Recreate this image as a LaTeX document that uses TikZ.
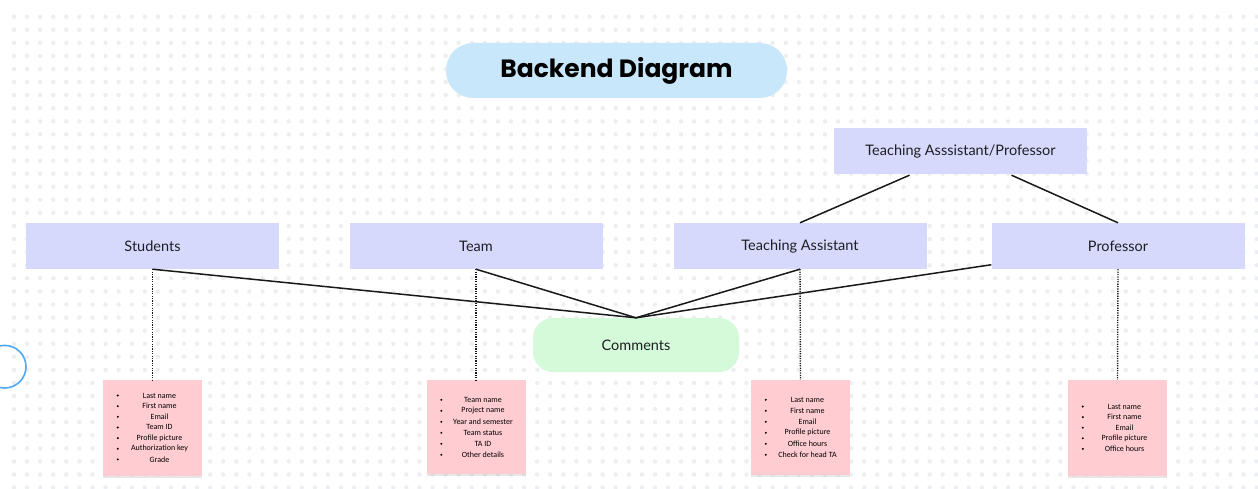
\documentclass[tikz,border=0pt]{standalone}
\usepackage{fontspec}
\setmainfont{Lato}
\newfontfamily\titlefont{Poppins}
\newfontfamily\notefont{Carlito}
\usetikzlibrary{calc,shadows}
\definecolor{gridgray}{HTML}{ECEEF2}
\definecolor{titleblue}{HTML}{C8E7FB}
\definecolor{boxlav}{HTML}{D6D9FC}
\definecolor{notepink}{HTML}{FFCCD1}
\definecolor{commgreen}{HTML}{D4FAD9}
\definecolor{arcblue}{HTML}{4FA8F2}
\definecolor{txt}{HTML}{1E1E24}
\tikzset{
  titlebox/.style={fill=titleblue, rounded corners=27pt, minimum width=341pt, minimum height=55pt, inner sep=0pt,
    font=\titlefont\bfseries\fontsize{25}{28}\selectfont, text=black},
  entity/.style={fill=boxlav, minimum width=253pt, minimum height=46pt, inner sep=0pt,
    font=\fontsize{14.5}{16}\selectfont, text=txt},
  commbox/.style={fill=commgreen, rounded corners=20pt, minimum width=206pt, minimum height=54pt, inner sep=0pt,
    font=\fontsize{14.5}{16}\selectfont, text=txt},
  notebox/.style={fill=notepink, minimum width=99pt, inner sep=0pt,
    drop shadow={shadow xshift=0pt, shadow yshift=-2pt, opacity=0.18, fill=gray}},
  notetxt/.style={font=\notefont\fontsize{8}{9}\selectfont, text=black, inner sep=0pt, anchor=center},
  conn/.style={line width=1.5pt, draw=black!90},
  dotconn/.style={line width=1.4pt, draw=black!90, dash pattern=on 1.2pt off 1.2pt},
}
\begin{document}
\begin{tikzpicture}[x=1pt,y=-1pt]
\useasboundingbox (0,0) rectangle (1258,489);
\fill[white] (0,0) rectangle (1258,489);
% dot grid
\foreach \i in {0,...,95} {
  \foreach \j in {0,...,36} {
    \fill[gridgray] ({14+13.08*\i},{16.7+13.08*\j}) circle (2.2pt);
  }
}
% partial circle at left edge
\begin{scope}
\clip (0,0) rectangle (1258,489);
\draw[arcblue, line width=1.6pt] (4.7,366.7) circle (21.3pt);
\end{scope}

\node[titlebox] (title) at (616.5,70.5) {Backend Diagram};

\node[entity] (tap) at (960.5,151) {Teaching Asssistant/Professor};
\node[entity] (students) at (152.5,246) {Students};
\node[entity] (team) at (476,246) {Team};
\node[entity] (ta) at (800,246) {Teaching Assistant};
\node[entity] (prof) at (1118,246) {Professor};

\node[commbox] (cm) at (636,345) {Comments};

\node[notebox, minimum height=96pt] (sn) at (152.5,428) {};
\node[notebox, minimum height=94pt] (tn) at (476,427) {};
\node[notebox, minimum height=95pt] (tan) at (800.5,427.5) {};
\node[notebox, minimum height=96pt] (pn) at (1117.5,428) {};

% connectors
\coordinate (tapL) at ($(tap.south)+(-51,1)$);
\coordinate (tapR) at ($(tap.south)+(51,1)$);
\draw[conn] (tapL) -- (ta.north);
\draw[conn] (tapR) -- (prof.north);
\draw[conn] (students.south) -- (cm.north);
\draw[conn] (team.south) -- (cm.north);
\draw[conn] (ta.south) -- (cm.north);
\draw[conn] (cm.north) -- (prof);

\draw[dotconn] (students.south) -- (sn.north);
\draw[dotconn] (team.south) -- (tn.north);
\draw[dotconn] (ta.south) -- (tan.north);
\draw[dotconn] (prof.south) -- (pn.north);

% note lists
\foreach \t [count=\i] in {Last name, First name, Email, Team ID, Profile picture, Authorization key, Grade} {
  \fill[black] ($(sn.north west)+(15,{15.7+10.65*(\i-1)})$) circle (1.1pt);
  \node[notetxt] (sn-\i) at ($(sn.north)+(7,{15.7+10.65*(\i-1)})$) {\t};
}
\foreach \t [count=\i] in {Team name, Project name, Year and semester, Team status, TA ID, Other details} {
  \fill[black] ($(tn.north west)+(15,{20+11*(\i-1)})$) circle (1.1pt);
  \node[notetxt] (tn-\i) at ($(tn.north)+(7,{20+11*(\i-1)})$) {\t};
}
\foreach \t [count=\i] in {Last name, First name, Email, Profile picture, Office hours, Check for head TA} {
  \fill[black] ($(tan.north west)+(15,{20+11*(\i-1)})$) circle (1.1pt);
  \node[notetxt] (tan-\i) at ($(tan.north)+(7,{20+11*(\i-1)})$) {\t};
}
\foreach \t [count=\i] in {Last name, First name, Email, Profile picture, Office hours} {
  \fill[black] ($(pn.north west)+(15,{26.7+10.6*(\i-1)})$) circle (1.1pt);
  \node[notetxt] (pn-\i) at ($(pn.north)+(7,{26.7+10.6*(\i-1)})$) {\t};
}
\end{tikzpicture}
\end{document}
